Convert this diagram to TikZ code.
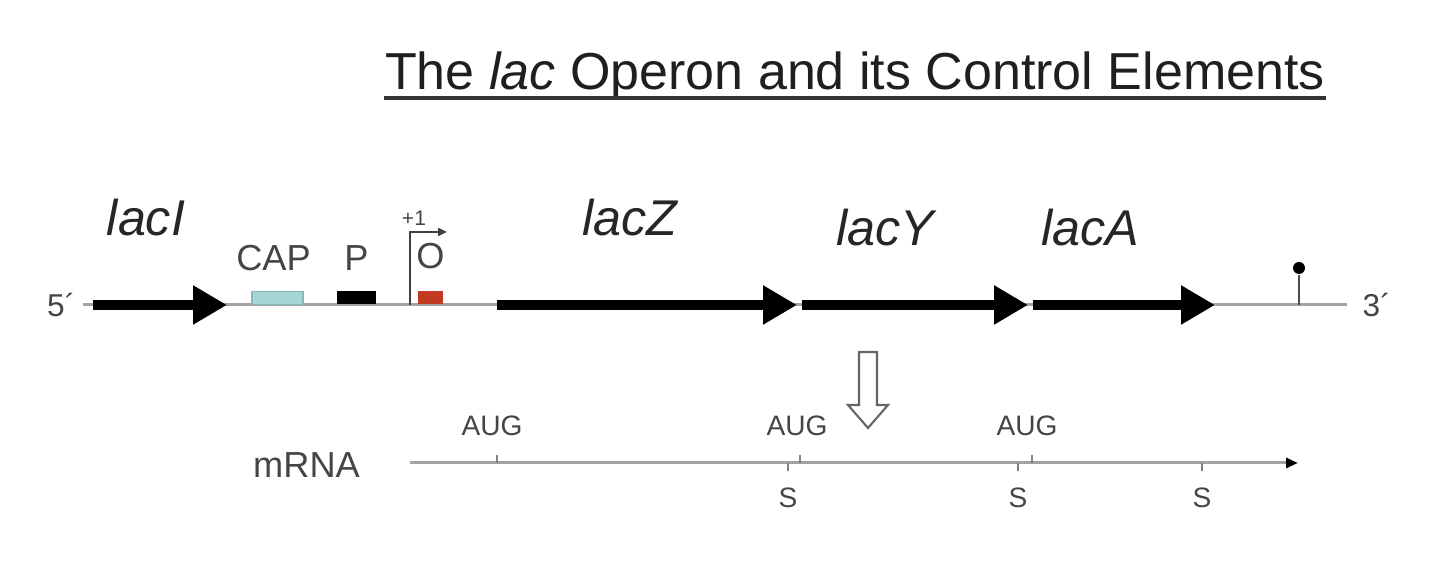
\documentclass[tikz,border=0pt]{standalone}
\usepackage{fontspec}
\setmainfont{Liberation Sans}
\usetikzlibrary{arrows.meta}
\usetikzlibrary{positioning}

\definecolor{dnagray}{HTML}{A3A3A3}
\definecolor{capcyan}{HTML}{A8D5D6}
\definecolor{capedge}{HTML}{86B9BB}
\definecolor{opred}{HTML}{C23A22}
\definecolor{labelgray}{HTML}{454545}

\begin{document}
\begin{tikzpicture}[
  dna/.style={draw=dnagray, line width=0.85pt},
  gene/.style={line width=2.9pt, line cap=butt, -{Triangle[length=0.34cm,width=0.37cm]}},
  genename/.style={font=\fontsize{14.3}{16}\selectfont\itshape, text=black!85},
  element/.style={rectangle, minimum height=0.13cm, inner sep=0pt, anchor=south},
  elemlabel/.style={font=\fontsize{10.3}{12}\selectfont, text=labelgray, inner sep=0pt},
  endlabel/.style={font=\fontsize{9}{11}\selectfont, text=labelgray, inner sep=0pt},
  sitelabel/.style={font=\fontsize{8}{10}\selectfont, text=labelgray, inner sep=0pt},
  tick/.style={draw=dnagray!80!black, line width=0.6pt}
]
\useasboundingbox (0,0) rectangle (14.4,5.7);
% title
\node[font=\fontsize{14.8}{17}\selectfont, text=black!88, inner sep=0pt, anchor=base] (title) at (8.55,4.80)
  {The \textit{lac} Operon and its Control Elements};
\draw[line width=1.1pt, black!80] ([yshift=-0.08cm]title.base west) -- ([yshift=-0.08cm]title.base east);
% DNA line
\coordinate (dnaL) at (0.83,2.65);
\coordinate (dnaR) at (13.47,2.65);
\draw[dna] (dnaL) -- (dnaR);
\node[endlabel, anchor=east] (five) at (0.76,2.65) {5´};
\node[endlabel, anchor=west] (three) at (13.62,2.65) {3´};
% genes
\coordinate (lacIs) at (0.93,2.65);
\coordinate (lacIe) at (2.27,2.65);
\coordinate (lacZs) at (4.97,2.65);
\coordinate (lacZe) at (7.97,2.65);
\coordinate (lacYs) at (8.02,2.65);
\coordinate (lacYe) at (10.28,2.65);
\coordinate (lacAs) at (10.33,2.65);
\coordinate (lacAe) at (12.15,2.65);
\draw[gene] (lacIs) -- (lacIe);
\draw[gene] (lacZs) -- (lacZe);
\draw[gene] (lacYs) -- (lacYe);
\draw[gene] (lacAs) -- (lacAe);
\node[genename] (lacI) at (1.46,3.52) {lacI};
\node[genename] (lacZ) at (6.30,3.52) {lacZ};
\node[genename] (lacY) at (8.85,3.42) {lacY};
\node[genename] (lacA) at (10.90,3.42) {lacA};
% control elements
\node[element, minimum width=0.51cm, fill=capcyan, draw=capedge, line width=0.4pt] (cap) at (2.775,2.65) {};
\node[element, minimum width=0.39cm, fill=black] (prom) at (3.565,2.65) {};
\node[element, minimum width=0.25cm, fill=opred] (oper) at (4.305,2.65) {};
\node[elemlabel, above=0.19cm of cap, xshift=-0.04cm] (caplabel) {CAP};
\node[elemlabel, above=0.19cm of prom] (promlabel) {P};
\node[elemlabel, above=0.21cm of oper] (operlabel) {O};
% transcription start
\coordinate (tssbase) at (4.10,2.65);
\coordinate (tsstip) at (4.47,3.38);
\draw[line width=0.6pt, black!75, -{Triangle[length=0.09cm,width=0.08cm]}] (tssbase) |- (tsstip);
\node[font=\fontsize{6}{7}\selectfont, text=labelgray, inner sep=0pt] (plusone) at (4.14,3.52) {+1};
% terminator
\coordinate (termbase) at (12.99,2.65);
\node[circle, fill=black, minimum size=0.12cm, inner sep=0pt] (term) at (12.99,3.02) {};
\draw[line width=0.6pt, black!70] (termbase) -- (term);
% hollow arrow
\draw[line width=0.6pt, black!60, fill=white] (8.59,2.18) -- (8.77,2.18) -- (8.77,1.65) -- (8.88,1.65)
  -- (8.68,1.42) -- (8.48,1.65) -- (8.59,1.65) -- cycle;
% mRNA
\coordinate (mrnaL) at (4.10,1.07);
\coordinate (mrnaR) at (12.98,1.07);
\draw[dna, -{Triangle[length=0.12cm,width=0.1cm,color=black]}] (mrnaL) -- (mrnaR);
\node[elemlabel] (mrna) at (3.065,1.05) {mRNA};
% start codons
\coordinate (aug1) at (4.97,1.07);
\coordinate (aug2) at (8.00,1.07);
\coordinate (aug3) at (10.32,1.07);
\draw[tick] (aug1) -- ++(0,0.08);
\draw[tick] (aug2) -- ++(0,0.08);
\draw[tick] (aug3) -- ++(0,0.08);
\node[sitelabel] (augA) at (4.92,1.44) {AUG};
\node[sitelabel] (augB) at (7.97,1.44) {AUG};
\node[sitelabel] (augC) at (10.27,1.44) {AUG};
% stop sites
\coordinate (s1) at (7.88,1.07);
\coordinate (s2) at (10.18,1.07);
\coordinate (s3) at (12.02,1.07);
\draw[tick] (s1) -- ++(0,-0.08);
\draw[tick] (s2) -- ++(0,-0.08);
\draw[tick] (s3) -- ++(0,-0.08);
\node[sitelabel] (stopA) at (7.88,0.72) {S};
\node[sitelabel] (stopB) at (10.18,0.72) {S};
\node[sitelabel] (stopC) at (12.02,0.72) {S};
\end{tikzpicture}
\end{document}
